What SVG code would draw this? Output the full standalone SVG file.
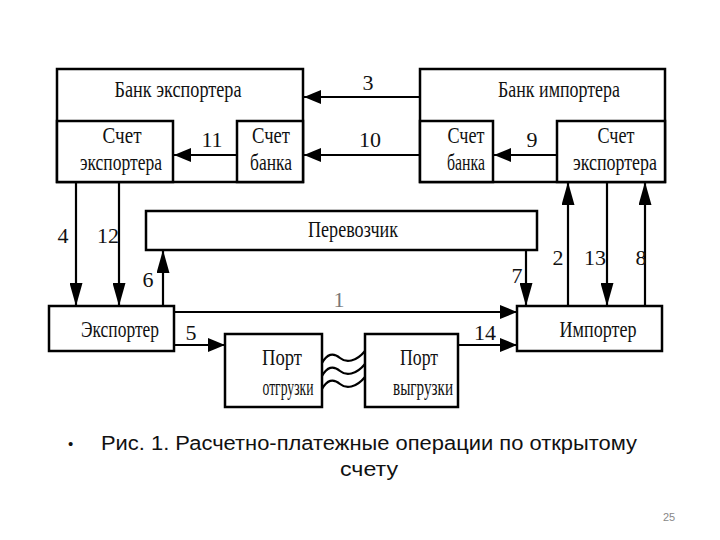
<svg xmlns="http://www.w3.org/2000/svg" width="720" height="540" viewBox="0 0 720 540">
<style>
.box{fill:#fff;stroke:#000;stroke-width:2.5}
.ln{fill:none;stroke:#000;stroke-width:2.2}
.t{font-family:"Liberation Serif","Times New Roman",serif;font-size:23px;fill:#111;text-anchor:middle}
.n{font-family:"Liberation Serif","Times New Roman",serif;font-size:22px;fill:#111;text-anchor:middle}
.cap{font-family:"Liberation Sans","Noto Sans",Arial,sans-serif;font-size:20px;fill:#111}
</style>
<defs>
<marker id="ah" markerUnits="userSpaceOnUse" markerWidth="18" markerHeight="14" refX="17" refY="7" orient="auto"><path d="M0,0 L17,7 L0,14 z" fill="#000"/></marker>
<marker id="av" markerUnits="userSpaceOnUse" markerWidth="24" markerHeight="13" refX="23" refY="6.5" orient="auto"><path d="M0,0 L23,6.5 L0,13 z" fill="#000"/></marker>
</defs>
<rect width="720" height="540" fill="#fff"/>

<g id="bank-exporter">
<rect class="box" x="57" y="69" width="246" height="113"/>
<text class="t" x="178" y="97" textLength="127" lengthAdjust="spacingAndGlyphs">Банк экспортера</text>
</g>
<g id="exp-acct-left">
<rect class="box" x="57" y="121" width="116" height="61"/>
<text class="t" x="122" y="143" textLength="39" lengthAdjust="spacingAndGlyphs">Счет</text>
<text class="t" x="121" y="170" textLength="82" lengthAdjust="spacingAndGlyphs">экспортера</text>
</g>
<g id="bank-acct-left">
<rect class="box" x="237" y="121" width="66" height="61"/>
<text class="t" x="271" y="143" textLength="38" lengthAdjust="spacingAndGlyphs">Счет</text>
<text class="t" x="271" y="170" textLength="42" lengthAdjust="spacingAndGlyphs">банка</text>
</g>

<g id="bank-importer">
<rect class="box" x="420" y="69" width="245" height="113"/>
<text class="t" x="559" y="97" textLength="122" lengthAdjust="spacingAndGlyphs">Банк импортера</text>
</g>
<g id="bank-acct-right">
<rect class="box" x="420" y="121" width="73" height="61"/>
<text class="t" x="466" y="143" textLength="37" lengthAdjust="spacingAndGlyphs">Счет</text>
<text class="t" x="466" y="170" textLength="38" lengthAdjust="spacingAndGlyphs">банка</text>
</g>
<g id="exp-acct-right">
<rect class="box" x="557" y="121" width="108" height="61"/>
<text class="t" x="616" y="143" textLength="37" lengthAdjust="spacingAndGlyphs">Счет</text>
<text class="t" x="615" y="170" textLength="84" lengthAdjust="spacingAndGlyphs">экспортера</text>
</g>

<g id="carrier">
<rect class="box" x="146" y="211" width="391" height="39"/>
<text class="t" x="353" y="237" textLength="90" lengthAdjust="spacingAndGlyphs">Перевозчик</text>
</g>

<g id="exporter">
<rect class="box" x="49" y="306" width="125" height="45"/>
<text class="t" x="120" y="337" textLength="78" lengthAdjust="spacingAndGlyphs">Экспортер</text>
</g>
<g id="importer">
<rect class="box" x="517" y="306" width="145" height="45"/>
<text class="t" x="598" y="337" textLength="77" lengthAdjust="spacingAndGlyphs">Импортер</text>
</g>

<g id="port-loading">
<rect class="box" x="225" y="334" width="97" height="73"/>
<text class="t" x="282" y="365" textLength="40" lengthAdjust="spacingAndGlyphs">Порт</text>
<text class="t" x="288" y="395" textLength="51" lengthAdjust="spacingAndGlyphs">отгрузки</text>
</g>
<g id="port-unloading">
<rect class="box" x="365" y="334" width="93" height="73"/>
<text class="t" x="419" y="365" textLength="38" lengthAdjust="spacingAndGlyphs">Порт</text>
<text class="t" x="423" y="395" textLength="60" lengthAdjust="spacingAndGlyphs">выгрузки</text>
</g>

<g id="connectors">
<line class="ln" x1="420" y1="97" x2="304" y2="97" marker-end="url(#ah)"/>
<line class="ln" x1="420" y1="155" x2="304" y2="155" marker-end="url(#ah)"/>
<line class="ln" x1="237" y1="155" x2="174" y2="155" marker-end="url(#ah)"/>
<line class="ln" x1="557" y1="155" x2="494" y2="155" marker-end="url(#ah)"/>
<line class="ln" x1="76" y1="182" x2="76" y2="306" marker-end="url(#av)"/>
<line class="ln" x1="119" y1="182" x2="119" y2="306" marker-end="url(#av)"/>
<line class="ln" x1="163" y1="306" x2="163" y2="250" marker-end="url(#av)"/>
<line class="ln" x1="526" y1="250" x2="526" y2="306" marker-end="url(#av)"/>
<line class="ln" x1="568" y1="306" x2="568" y2="182" marker-end="url(#av)"/>
<line class="ln" x1="607" y1="182" x2="607" y2="306" marker-end="url(#av)"/>
<line class="ln" x1="645" y1="306" x2="645" y2="182" marker-end="url(#av)"/>
<line class="ln" x1="174" y1="312" x2="517" y2="312" marker-end="url(#ah)"/>
<line class="ln" x1="174" y1="345" x2="225" y2="345" marker-end="url(#ah)"/>
<line class="ln" x1="458" y1="345" x2="517" y2="345" marker-end="url(#ah)"/>
<path class="ln" d="M322,363 C327,354 333,352 340,358 C346,363 356,362 365,351"/>
<path class="ln" d="M322,376 C327,367 333,365 340,371 C346,376 356,375 365,364"/>
<path class="ln" d="M322,389 C327,380 333,378 340,384 C346,389 356,388 365,377"/>
</g>

<g id="labels">
<text class="n" x="368" y="90">3</text>
<text class="n" x="370" y="147">10</text>
<text class="n" x="212" y="147">11</text>
<text class="n" x="532" y="147">9</text>
<text class="n" x="63" y="243">4</text>
<text class="n" x="108" y="243">12</text>
<text class="n" x="148" y="287">6</text>
<text class="n" x="517" y="283">7</text>
<text class="n" x="558" y="265">2</text>
<text class="n" x="595" y="265">13</text>
<text class="n" x="641" y="265">8</text>
<text class="n" x="339" y="307" style="fill:#777">1</text>
<text class="n" x="191" y="340">5</text>
<text class="n" x="485" y="340">14</text>
</g>

<g id="caption">
<text class="cap" x="68" y="449" style="font-size:15px">•</text>
<text class="cap" x="101" y="450" textLength="536" lengthAdjust="spacingAndGlyphs">Рис. 1. Расчетно-платежные операции по открытому</text>
<text class="cap" x="369" y="476" text-anchor="middle" textLength="58" lengthAdjust="spacingAndGlyphs">счету</text>
<text x="669" y="521" text-anchor="middle" style="font-family:'Liberation Sans',Arial,sans-serif;font-size:11px;fill:#888">25</text>
</g>
</svg>
